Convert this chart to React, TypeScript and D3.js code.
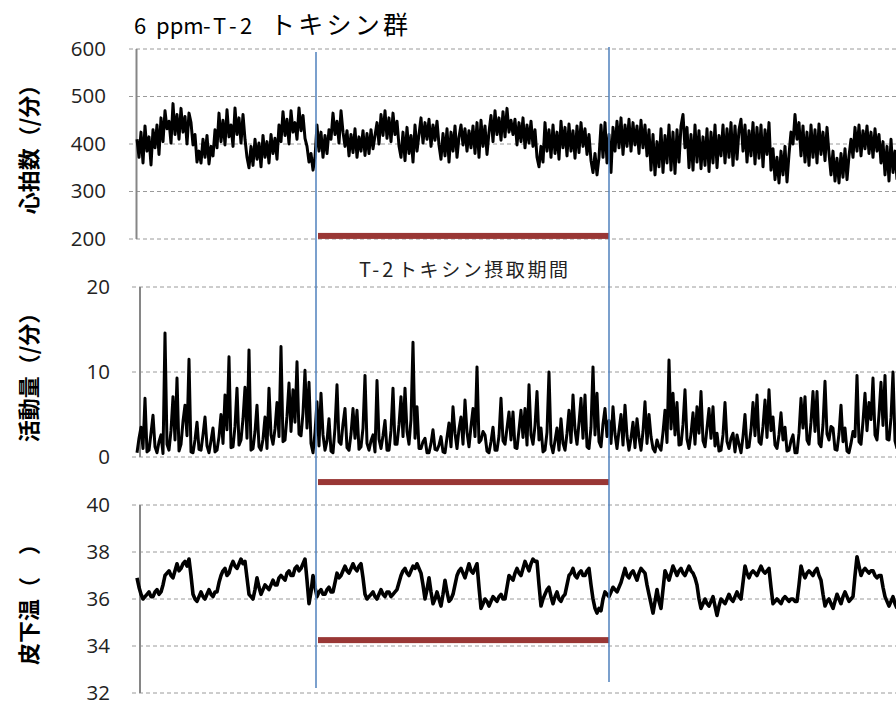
import React, { useMemo } from "react";
import * as d3 from "d3";

const PERIOD_LATIN = "T-2";
const PERIOD_KANA = "トキシン摂取期間";

// heart rate (/min), one sample per step
const heartRate = [
  410, 372, 425, 360, 438, 385, 415, 356, 430, 392, 440, 378,
  455, 405, 470, 432, 448, 402, 485, 420, 462, 410, 475, 425, 458, 400, 465,
  445, 398, 420, 362, 385,
  360, 410, 372, 418, 358, 395, 375,
  430, 392, 465, 405, 450, 398, 472, 415, 440, 395, 476, 420, 455, 402, 462, 410,
  372, 350,
  395, 355, 410, 368, 402, 352, 418, 372, 405, 360, 420, 380, 412, 368,
  440, 405, 468, 418, 452, 400, 470, 425, 445, 410, 476, 428, 460, 412,
  395, 362, 380, 345, 372,
  440,
  385, 425, 372, 418, 380, 430,
  410, 465, 420, 448, 402, 470, 425, 395,
  428, 375, 420, 382, 432, 372, 415, 385, 428, 376, 422, 380, 430, 390, 418,
  445, 400, 462, 418, 470, 412, 455, 405, 465, 420, 448, 396,
  372, 425, 365, 435, 380, 418, 362, 440, 385, 420,
  455, 402, 445, 410, 452, 395, 440, 408, 448, 398,
  368, 422, 375, 432, 362, 425, 385, 438, 372, 415,
  440, 398, 432, 385, 428, 392, 438, 380,
  445, 372, 450, 395, 438, 378, 425,
  460, 405, 470, 420, 455, 408, 468, 415, 475, 425, 450,
  420, 452, 398, 445, 405, 455, 392, 440, 402, 448, 395, 430,
  372, 352, 395, 362,
  445, 385, 430, 372, 440, 380, 425, 368, 448, 392, 435, 375, 442, 385, 428, 370, 438, 382, 445, 395, 432, 378, 420,
  365, 340, 380, 335, 372,
  440, 372, 445, 360, 420, 340,
  435, 385, 448, 392, 455, 378, 440, 395, 452, 385, 445, 398, 438, 380, 450, 392, 440, 375, 430,
  345, 420, 335, 405, 352, 432, 340, 418, 360, 440, 345, 425, 338, 430, 362, 438,
  462,
  392, 435, 350, 420, 345, 440, 362, 428, 348, 415, 355, 432, 342, 425, 360, 440, 350, 418,
  375, 440, 360, 432, 372, 445, 355, 438, 368, 430, 452, 385, 440, 362, 428, 375, 445, 358, 435, 370, 440, 352, 430, 378, 445,
  345, 390, 325, 372, 318, 385, 335, 395, 320, 378,
  425, 400, 462, 410, 445,
  375, 438, 362, 425, 355, 440, 372, 430, 360, 442, 378, 425, 365, 435, 380,
  335, 385, 322, 370, 318, 380, 330, 390, 325, 375,
  410, 372, 435, 385, 440, 375, 428, 390, 438, 380, 425, 372, 432, 385, 420,
  360, 405, 335, 395, 322, 410, 340, 385, 325,
];

// activity (/min)
const activity = [
  0.5, 2.2, 3.5, 1.0, 6.9, 0.6, 0.8, 2.8, 4.9, 1.2, 0.5, 1.8, 2.6, 0.4, 14.6, 1.5, 0.8, 3.1, 7.1, 2.0,
  9.3, 0.7, 1.5, 4.2, 6.1, 2.5, 11.5, 0.6, 0.5, 2.0, 4.1, 0.9, 0.8, 2.6, 4.7, 1.3, 0.5, 1.9, 3.4, 0.6,
  0.8, 2.4, 5, 1.6, 7.3, 3.2, 11.8, 1.1, 1.2, 3.6, 8.1, 1.4, 2, 4.5, 8.2, 2.2, 12.6, 0.8, 1, 3.0,
  6.1, 1.2, 0.8, 2.1, 4.7, 1.0, 8.1, 2.6, 1.5, 3.3, 6.4, 2.4, 13, 1.8, 2, 4.8, 8.7, 3.0, 7.9, 4.1,
  11.2, 2.7, 2.5, 5.2, 10.2, 3.4, 8.8, 1.6, 0.5, 2.9, 6.5, 1.3, 7.5, 2.6, 0.8, 1.9, 4.5, 0.7, 0.5, 3.4,
  8.5, 1.8, 1.5, 3.9, 5.7, 1.1, 0.8, 2.7, 5.7, 2.2, 5.5, 0.9, 1.2, 3.4, 9.6, 1.6, 0.8, 1.9, 2.6, 0.6,
  9, 2.1, 1, 2.5, 4.3, 0.8, 0.8, 3.1, 8.1, 1.5, 1.5, 3.8, 7.1, 2.4, 8.1, 3.0, 1.5, 4.4, 13.5, 2.2,
  5.9, 1.0, 1, 1.8, 2.2, 0.5, 0.5, 1.6, 3.2, 0.9, 0.8, 1.4, 2.4, 0.6, 0.5, 2.3, 4, 1.2, 5.9, 2.8,
  1, 3.3, 4.7, 1.5, 6.7, 2.9, 1.2, 3.6, 5.7, 2.4, 10.6, 1.7, 2, 3.0, 2.6, 0.7, 0.5, 1.8, 3.5, 0.8,
  0.8, 2.5, 6.9, 1.9, 1.5, 3.4, 5.3, 2.0, 5.3, 1.1, 1, 3.2, 5.5, 2.3, 5.7, 1.4, 8.5, 2.6, 1.5, 3.7,
  7.7, 2.0, 3.4, 0.6, 0.8, 2.9, 10, 1.5, 0.5, 1.9, 3.4, 0.8, 4.5, 1.6, 0.8, 2.8, 5.5, 1.7, 7.3, 3.2,
  1.5, 4.0, 6.9, 2.2, 7.3, 1.2, 1, 3.5, 10.6, 2.6, 7.5, 1.8, 1.2, 3.9, 5.7, 2.4, 4.3, 1.6, 5.9, 2.7,
  1, 3.1, 5, 1.4, 6.1, 2.5, 0.8, 2.2, 4.1, 1.1, 4.5, 2.3, 0.8, 3.0, 6.5, 1.6, 5, 2.4, 1, 0.6,
  2, 1.2, 0.8, 2.9, 5.5, 1.7, 11.4, 3.3, 7.5, 2.6, 6.4, 1.4, 1.5, 3.8, 7.9, 2.1, 1, 2.7, 5.2, 1.5,
  5.9, 2.8, 7.7, 1.9, 1.2, 3.4, 5.7, 2.2, 5.9, 1.3, 2.8, 0.7, 0.8, 2.6, 6.4, 1.8, 1, 2.2, 2.8, 0.6,
  2.6, 1.5, 0.5, 2.4, 5, 1.1, 1.2, 3.2, 6.4, 2.5, 7.3, 1.8, 1.5, 3.6, 6.7, 2.3, 7.9, 3.1, 4.7, 1.4,
  1, 2.6, 5.2, 2.0, 3.5, 0.7, 0.8, 1.9, 2.6, 0.5, 0.5, 2.8, 6.9, 3.4, 7.1, 2.0, 1.5, 4.1, 7.7, 3.0,
  7.7, 1.6, 1.2, 3.8, 8.9, 2.7, 2, 3.6, 3.4, 0.9, 0.8, 2.7, 6.1, 1.8, 3.4, 0.7, 0.5, 1.6, 3, 2.4,
  9.6, 1.8, 1.5, 4.2, 7.5, 3.1, 6.4, 4.4, 9.3, 2.6, 2, 5.0, 8.8, 3.7, 9.6, 2.1, 2, 4.6, 10, 1.9,
  1,
];

// subcutaneous temperature
const temperature = [
  36.9, 36.5, 36.2, 36.0, 36.1, 36.2, 36.3, 36.1, 36.1, 36.3, 36.4, 36.2, 36.3, 36.6, 37.0, 37.1, 37.2, 37.0, 36.9, 37.2,
  37.5, 37.2, 37.3, 37.5, 37.6, 37.4, 37.7, 37.0, 36.2, 36.0, 35.9, 36.1, 36.3, 36.1, 36.0, 36.2, 36.4, 36.2, 36.1, 36.3,
  36.3, 36.7, 37.0, 37.2, 37.3, 37.0, 37.1, 37.4, 37.6, 37.4, 37.3, 37.5, 37.7, 37.5, 37.6, 36.9, 36.2, 36.1, 36.0, 36.4,
  36.9, 36.5, 36.2, 36.4, 36.6, 36.5, 36.4, 36.6, 36.8, 36.6, 36.6, 36.9, 37.0, 36.9, 36.8, 37.1, 37.2, 37.0, 37.0, 37.3,
  37.4, 37.2, 37.3, 37.5, 37.7, 36.8, 35.8, 36.3, 37.0, 36.5, 36.1, 36.3, 36.4, 36.2, 36.2, 36.4, 36.5, 36.3, 36.3, 36.7,
  37.1, 36.9, 37.0, 37.2, 37.4, 37.2, 37.1, 37.3, 37.5, 37.3, 37.2, 37.4, 37.5, 36.9, 36.2, 36.0, 36.1, 36.2, 36.3, 36.1,
  36.0, 36.2, 36.4, 36.2, 36.1, 36.3, 36.3, 36.1, 36.2, 36.3, 36.4, 36.7, 37.0, 37.2, 37.3, 37.1, 37.0, 37.2, 37.4, 37.3,
  37.5, 37.3, 37.1, 36.6, 36.0, 36.4, 36.9, 36.3, 35.8, 36.0, 36.3, 36.0, 35.7, 36.2, 36.8, 36.3, 35.9, 36.0, 36.2, 36.6,
  37.0, 37.2, 37.3, 37.1, 36.9, 37.2, 37.5, 37.2, 37.1, 37.3, 37.5, 36.5, 35.6, 35.8, 36.0, 35.9, 35.7, 35.9, 36.1, 36.0,
  35.9, 36.1, 36.2, 36.0, 36.0, 36.5, 37.0, 36.9, 36.8, 37.1, 37.3, 37.1, 37.0, 37.3, 37.6, 37.4, 37.2, 37.5, 37.7, 37.6,
  37.6, 36.6, 35.7, 36.0, 36.2, 36.4, 36.5, 36.1, 35.8, 36.1, 36.3, 36.0, 35.9, 36.1, 36.2, 36.6, 37.0, 37.1, 37.3, 37.0,
  36.9, 37.1, 37.2, 37.0, 37.0, 37.2, 37.3, 36.6, 36.0, 35.6, 35.4, 35.6, 35.5, 36.0, 36.3, 36.2, 36.1, 36.3, 36.5, 36.4,
  36.3, 36.5, 36.7, 37.0, 37.3, 37.0, 36.9, 37.1, 37.2, 37.0, 36.8, 37.1, 37.3, 37.2, 37.1, 36.6, 36.2, 35.8, 35.4, 35.9,
  36.4, 35.9, 35.6, 36.4, 37.2, 37.0, 36.8, 37.1, 37.4, 37.2, 37.0, 37.2, 37.3, 37.1, 37.0, 37.2, 37.4, 37.2, 37.1, 36.9,
  36.6, 36.0, 35.6, 35.8, 36.0, 35.8, 35.7, 35.9, 36.1, 35.7, 35.3, 35.7, 36.0, 35.9, 35.8, 36.0, 36.2, 36.0, 35.9, 36.1,
  36.3, 36.1, 36.0, 36.7, 37.4, 37.1, 36.9, 37.1, 37.2, 37.1, 37.0, 37.2, 37.4, 37.2, 37.1, 37.2, 37.3, 36.5, 35.8, 35.9,
  36.0, 35.9, 35.8, 36.0, 36.1, 36.0, 35.9, 36.0, 36.0, 35.9, 35.9, 36.6, 37.4, 37.1, 36.9, 37.1, 37.2, 37.1, 37.0, 37.2,
  37.3, 37.0, 36.8, 36.2, 35.7, 35.9, 36.0, 35.8, 35.6, 35.9, 36.2, 36.0, 35.8, 36.1, 36.3, 36.1, 35.9, 36.0, 36.1, 37.0,
  37.8, 37.4, 37.0, 37.2, 37.3, 37.2, 37.1, 37.2, 37.2, 37.0, 36.9, 37.0, 37.0, 36.5, 36.1, 35.9, 35.7, 35.9, 36.1, 35.8,
  35.6,
];

// intake period, in sample index units
const intakeStart = 89.5;
const intakeEnd = 236;

const panels = [
  {
    key: "hr",
    title: "心拍数（/分）",
    data: heartRate,
    domain: [200, 600],
    ticks: [200, 300, 400, 500, 600],
    range: [239, 49],
    axisX: 136.5,
    labelX: 106,
    gridX0: 129,
    barValue: 206.5,
    strokeW: 3,
  },
  {
    key: "act",
    title: "活動量（/分）",
    data: activity,
    domain: [0, 20],
    ticks: [0, 10, 20],
    range: [457, 287],
    axisX: 140,
    labelX: 110,
    gridX0: 132,
    barValue: -2.95,
    strokeW: 3,
  },
  {
    key: "temp",
    title: "皮下温（　）",
    data: temperature,
    domain: [32, 40],
    ticks: [32, 34, 36, 38, 40],
    range: [693, 505],
    axisX: 140,
    labelX: 110,
    gridX0: 132,
    barValue: 34.25,
    strokeW: 3.6,
  },
];

const FONT = "'Noto Sans CJK JP', 'Noto Sans', sans-serif";

export default function App() {
  const width = 896;
  const height = 705;

  const x = useMemo(
    () => d3.scaleLinear().domain([0, heartRate.length - 1]).range([137, 897]),
    []
  );

  return (
    <svg
      width={width}
      height={height}
      style={{ position: "absolute", left: 0, top: 0, background: "#fff" }}
      fontFamily={FONT}
    >
      <text y={34} fontSize={22} fill="#000">
        <tspan x={134}>6</tspan>
        <tspan x={156}>ppm</tspan>
        <tspan x={203}>-</tspan>
        <tspan x={213}>T</tspan>
        <tspan x={229}>-</tspan>
        <tspan x={240}>2</tspan>
        <tspan x={270} fontSize={25} textLength={138} lengthAdjust="spacing">
          トキシン群
        </tspan>
      </text>

      {panels.map((p) => {
        const y = d3.scaleLinear().domain(p.domain).range(p.range);
        const line = d3
          .line<number>()
          .x((_, i) => x(i))
          .y((d) => y(d));
        const cy = (p.range[0] + p.range[1]) / 2;
        return (
          <g key={p.key}>
            {p.ticks.map((t) => (
              <g key={t}>
                <line
                  x1={p.gridX0}
                  x2={width}
                  y1={y(t)}
                  y2={y(t)}
                  stroke="#9a9a9a"
                  strokeWidth={1}
                  strokeDasharray="4 3"
                />
                <text
                  x={p.labelX}
                  y={y(t)}
                  dy="0.34em"
                  textAnchor="end"
                  fontSize={20.5}
                  fill="#222"
                  fontFamily="'Open Sans', sans-serif"
                >
                  {t}
                </text>
              </g>
            ))}
            <line
              x1={p.axisX}
              x2={p.axisX}
              y1={p.range[1]}
              y2={p.range[0]}
              stroke="#868686"
              strokeWidth={2}
            />
            <text
              transform={`translate(29,${cy}) rotate(-90)`}
              textAnchor="middle"
              dy="0.36em"
              fontSize={22}
              fontWeight={700}
            >
              {p.title}
            </text>
            <path
              d={line(p.data) ?? ""}
              fill="none"
              stroke="#000"
              strokeWidth={p.strokeW}
              strokeLinejoin="round"
            />
            <rect
              x={x(intakeStart) + 2}
              width={x(intakeEnd) - x(intakeStart) - 2}
              y={y(p.barValue) - 3}
              height={6}
              fill="#993735"
            />
          </g>
        );
      })}

      <text y={277} fontSize={20} fill="#222">
        <tspan x={359} letterSpacing={3}>{PERIOD_LATIN}</tspan>
        <tspan x={398} fontSize={19} textLength={170} lengthAdjust="spacing">{PERIOD_KANA}</tspan>
      </text>

      <line x1={x(intakeStart)} x2={x(intakeStart)} y1={52} y2={688} stroke="#4f81bd" strokeWidth={1.5} />
      <line x1={x(intakeEnd)} x2={x(intakeEnd)} y1={47} y2={682} stroke="#4f81bd" strokeWidth={1.5} />
    </svg>
  );
}
